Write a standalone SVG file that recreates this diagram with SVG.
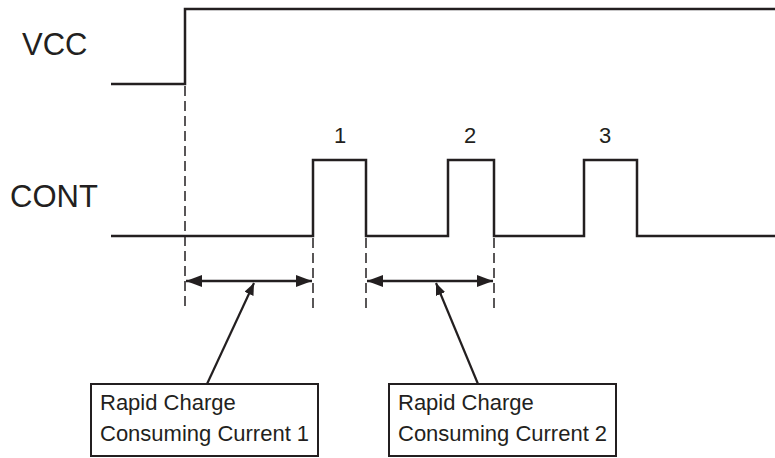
<svg xmlns="http://www.w3.org/2000/svg" width="775" height="458" viewBox="0 0 775 458">
<defs>
<style>
.wave{fill:none;stroke:#231f20;stroke-width:2.5;stroke-linejoin:miter}
.dash{fill:none;stroke:#231f20;stroke-width:1.5;stroke-dasharray:10,5}
.dim{fill:none;stroke:#231f20;stroke-width:2.5}
.ptr{fill:none;stroke:#231f20;stroke-width:2.2}
.box{fill:#fff;stroke:#231f20;stroke-width:2}
.lbl{font-family:"Liberation Sans",Arial,sans-serif;fill:#231f20}
</style>
<marker id="ah" viewBox="0 0 16 12" refX="16" refY="6" markerWidth="16" markerHeight="12" markerUnits="userSpaceOnUse" orient="auto-start-reverse">
<path d="M0,0 L16,6 L0,12 Z" fill="#231f20"/>
</marker>
<marker id="ph" viewBox="0 0 12 10" refX="12" refY="5" markerWidth="12" markerHeight="10" markerUnits="userSpaceOnUse" orient="auto">
<path d="M0,0 L12,5 L0,10 Z" fill="#231f20"/>
</marker>
</defs>
<g id="signals">
<g id="vcc">
<text class="lbl" x="22" y="55" font-size="31">VCC</text>
<path class="wave" d="M111,84 H185 V9 H775"/>
</g>
<g id="cont">
<text class="lbl" x="10" y="207" font-size="31">CONT</text>
<path class="wave" d="M111,236 H313 V160 H366 V236 H448 V160 H494 V236 H584 V160 H637 V236 H775"/>
<text class="lbl" x="340" y="143" font-size="22" text-anchor="middle">1</text>
<text class="lbl" x="470" y="143" font-size="22" text-anchor="middle">2</text>
<text class="lbl" x="605" y="143" font-size="22" text-anchor="middle">3</text>
</g>
</g>
<g id="connectors">
<path class="dash" d="M185,86 V310"/>
<path class="dash" d="M313,238 V310"/>
<path class="dash" d="M366,238 V310"/>
<path class="dash" d="M494,238 V310"/>
<path class="dim" d="M186,281 H312" marker-start="url(#ah)" marker-end="url(#ah)"/>
<path class="dim" d="M367,281 H493" marker-start="url(#ah)" marker-end="url(#ah)"/>
<path class="ptr" d="M207,384 L254,283" marker-end="url(#ph)"/>
<path class="ptr" d="M478,384 L436,283" marker-end="url(#ph)"/>
</g>
<g id="box1">
<rect class="box" x="91" y="384" width="227" height="72"/>
<text class="lbl" x="100" y="410" font-size="22">Rapid Charge</text>
<text class="lbl" x="100" y="441" font-size="22">Consuming Current 1</text>
</g>
<g id="box2">
<rect class="box" x="389" y="384" width="227" height="72"/>
<text class="lbl" x="398" y="410" font-size="22">Rapid Charge</text>
<text class="lbl" x="398" y="441" font-size="22">Consuming Current 2</text>
</g>
</svg>
